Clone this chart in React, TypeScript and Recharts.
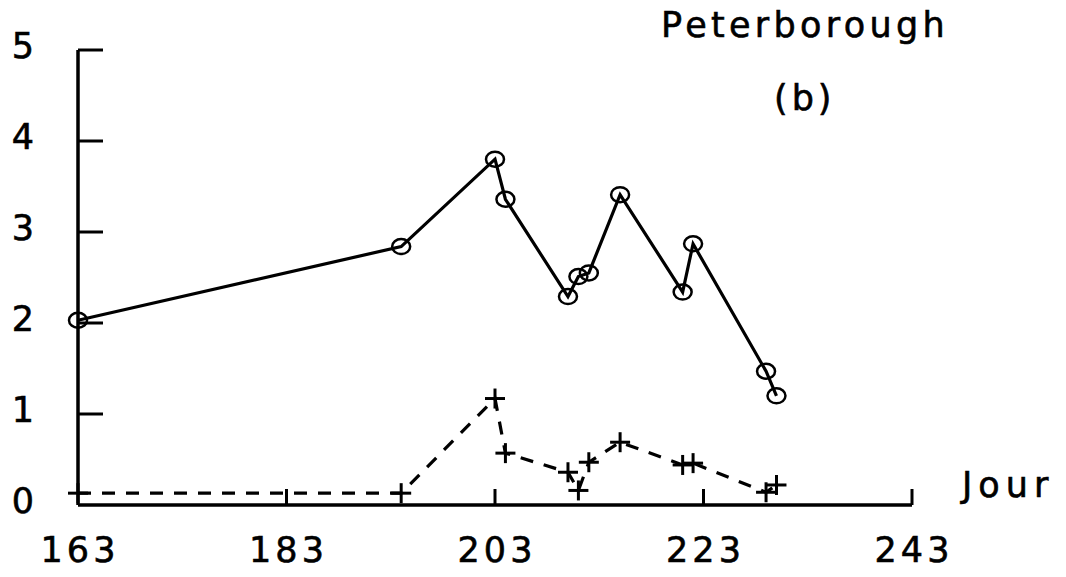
import React from 'react';
import { LineChart, Line, XAxis, YAxis } from 'recharts';

const days = [163, 194, 203, 204, 210, 211, 212, 215, 221, 222, 229, 230];
const solidValues = [2.03, 2.84, 3.8, 3.36, 2.29, 2.51, 2.55, 3.41, 2.34, 2.87, 1.47, 1.2];
const dashedValues = [0.13, 0.13, 1.17, 0.57, 0.36, 0.16, 0.47, 0.69, 0.44, 0.46, 0.14, 0.22];

const xTicks = [163, 183, 203, 223, 243];
const yTicks = [0, 1, 2, 3, 4, 5];

const FONT = '"DejaVu Sans", "Liberation Sans", sans-serif';
const INK = '#000';

const data = days.map((d, i) => ({ day: d, solid: solidValues[i], dashed: dashedValues[i] }));

// text in the scan is a little heavier than DejaVu Book
const textStyle = { fontFamily: FONT, fontSize: 35, fill: INK, stroke: INK, strokeWidth: 0.6 };

const YTick = (props: any) => {
  const { x, y, payload } = props;
  return (
    <g>
      {payload.value !== 0 && <line x1={x} x2={x + 25} y1={y} y2={y} stroke={INK} strokeWidth={3} />}
      <text x={x - 44} y={y + 8} textAnchor="end" {...textStyle}>
        {payload.value}
      </text>
    </g>
  );
};

const XTick = (props: any) => {
  const { x, y, payload } = props;
  return (
    <g>
      {payload.value !== 163 && <line x1={x} x2={x} y1={y} y2={y - 16} stroke={INK} strokeWidth={3} />}
      <text x={x + 2} y={y + 57} textAnchor="middle" letterSpacing={4} {...textStyle}>
        {payload.value}
      </text>
    </g>
  );
};

const CircleDot = (props: any) => {
  const { cx, cy, index } = props;
  return <ellipse key={`c${index}`} cx={cx} cy={cy} rx={9} ry={7.5} fill="none" stroke={INK} strokeWidth={2.5} />;
};

const PlusDot = (props: any) => {
  const { cx, cy, index } = props;
  return (
    <g key={`p${index}`}>
      <line x1={cx - 10} x2={cx + 10} y1={cy} y2={cy} stroke={INK} strokeWidth={3} />
      <line x1={cx} x2={cx} y1={cy - 10} y2={cy + 10} stroke={INK} strokeWidth={3} />
    </g>
  );
};

export default function App() {
  return (
    <div style={{ width: 1066, height: 577, background: '#fff' }}>
      <style>{'body{margin:0}'}</style>
      <LineChart width={1066} height={577} data={data} margin={{ top: 50, right: 154, bottom: 12, left: 8 }}>
        <XAxis
          dataKey="day"
          type="number"
          domain={[163, 243]}
          ticks={xTicks}
          height={60}
          tickSize={0}
          tickMargin={0}
          tickLine={false}
          axisLine={{ stroke: INK, strokeWidth: 3.5 }}
          tick={<XTick />}
          interval={0}
        />
        <YAxis
          type="number"
          domain={[0, 5]}
          ticks={yTicks}
          width={70}
          tickSize={0}
          tickMargin={0}
          tickLine={false}
          axisLine={{ stroke: INK, strokeWidth: 3.5 }}
          tick={<YTick />}
          interval={0}
        />
        <Line
          dataKey="solid"
          stroke={INK}
          strokeWidth={3.2}
          dot={CircleDot}
          activeDot={false}
          isAnimationActive={false}
        />
        <Line
          dataKey="dashed"
          stroke={INK}
          strokeWidth={3.2}
          strokeDasharray="13 11"
          dot={PlusDot}
          activeDot={false}
          isAnimationActive={false}
        />
        <text x={661} y={37} letterSpacing={4.3} {...textStyle}>Peterborough</text>
        <text x={774} y={110} letterSpacing={4} {...textStyle}>(b)</text>
        <text x={962} y={497} letterSpacing={6} {...textStyle}>Jour</text>
      </LineChart>
    </div>
  );
}
